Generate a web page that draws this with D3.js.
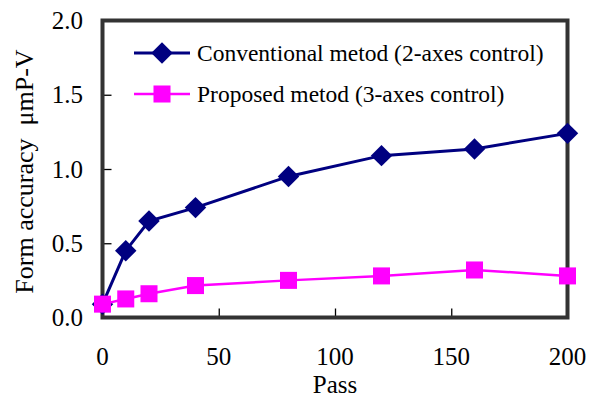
<!DOCTYPE html>
<html><head><meta charset="utf-8">
<script src="https://cdn.jsdelivr.net/npm/d3@7"></script>
<style>html,body{margin:0;padding:0;background:#fff;}svg{display:block;} svg text{font-family:"Liberation Serif","Times New Roman",Times,serif;}</style>
</head><body>
<svg id="chart" width="596" height="401"></svg>
<script>
const passes = [0, 10, 20, 40, 80, 120, 160, 200];
const conventional = [0.09, 0.45, 0.65, 0.74, 0.95, 1.09, 1.135, 1.24];
const proposed = [0.09, 0.125, 0.16, 0.215, 0.25, 0.28, 0.32, 0.28];
const xTicks = [0, 50, 100, 150, 200];
const yTicks = [0, 0.5, 1.0, 1.5, 2.0];
const seriesNames = ["Conventional metod (2-axes control)", "Proposed metod (3-axes control)"];
const xLabel = "Pass";
const yLabel = "Form accuracy  \u03bcmP-V";

const svg = d3.select("#chart");
const L = 102.5, R = 567.5, T = 20.5, B = 317.5;
const x = d3.scaleLinear().domain([0, 200]).range([L, R]);
const y = d3.scaleLinear().domain([0, 2]).range([B, T]);

// ticks (inward)
const xAxis = d3.axisBottom(x).tickValues(xTicks.slice(1, -1)).tickSize(-9).tickFormat("");
svg.append("g").attr("transform", `translate(0,${B})`).call(xAxis)
  .call(g => { g.select(".domain").remove(); g.selectAll("line").attr("stroke", "#000").attr("stroke-width", 1.3); });
const yAxis = d3.axisLeft(y).tickValues(yTicks.slice(1, -1)).tickSize(-9).tickFormat("");
svg.append("g").attr("transform", `translate(${L},0)`).call(yAxis)
  .call(g => { g.select(".domain").remove(); g.selectAll("line").attr("stroke", "#000").attr("stroke-width", 1.3); });

// tick labels
svg.append("g").selectAll("text").data(xTicks).join("text")
  .attr("x", d => x(d)).attr("y", 365).attr("text-anchor", "middle")
  .attr("font-size", 25).attr("fill", "#000").text(d => d);
svg.append("g").selectAll("text").data(yTicks).join("text")
  .attr("x", 83).attr("y", d => y(d) + 8.5).attr("text-anchor", "end")
  .attr("font-size", 25).attr("fill", "#000").text(d => d.toFixed(1));

// axis titles
svg.append("text").attr("x", x(100)).attr("y", 393).attr("text-anchor", "middle")
  .attr("font-size", 25).attr("fill", "#000").text(xLabel);
svg.append("text").attr("transform", "translate(33,171.5) rotate(-90)").attr("text-anchor", "middle")
  .attr("font-size", 26).attr("fill", "#000")
  .style("white-space", "pre").text(yLabel);

// frame
svg.append("rect").attr("x", L).attr("y", T).attr("width", R - L).attr("height", B - T)
  .attr("fill", "none").attr("stroke", "#333").attr("stroke-width", 4);

const diamond = d3.symbol().type(d3.symbolSquare).size(230);
const square = d3.symbol().type(d3.symbolSquare).size(290);
const line = d3.line().x(d => x(d[0])).y(d => y(d[1]));

const conv = passes.map((p, i) => [p, conventional[i]]);
const prop = passes.map((p, i) => [p, proposed[i]]);

svg.append("path").datum(conv).attr("d", line).attr("fill", "none").attr("stroke", "#000080").attr("stroke-width", 3);
svg.append("g").selectAll("path").data(conv).join("path")
  .attr("d", diamond).attr("transform", d => `translate(${x(d[0])},${y(d[1])}) rotate(45)`).attr("fill", "#000080");
svg.append("path").datum(prop).attr("d", line).attr("fill", "none").attr("stroke", "#FF00FF").attr("stroke-width", 2.5);
svg.append("g").selectAll("path").data(prop).join("path")
  .attr("d", square).attr("transform", d => `translate(${x(d[0])},${y(d[1])})`).attr("fill", "#FF00FF");

// legend
const leg = [{name: seriesNames[0], c: "#000080", sym: diamond, rot: 45, w: 3, ly: 53},
             {name: seriesNames[1], c: "#FF00FF", sym: square, rot: 0, w: 2.5, ly: 94}];
const lg = svg.append("g");
leg.forEach(s => {
  lg.append("line").attr("x1", 134).attr("x2", 190).attr("y1", s.ly).attr("y2", s.ly).attr("stroke", s.c).attr("stroke-width", s.w);
  lg.append("path").attr("d", s.sym).attr("transform", `translate(162,${s.ly}) rotate(${s.rot})`).attr("fill", s.c);
  lg.append("text").attr("x", 197).attr("y", s.ly + 8).attr("font-size", 23.5).attr("fill", "#000").text(s.name);
});
</script>
</body></html>
